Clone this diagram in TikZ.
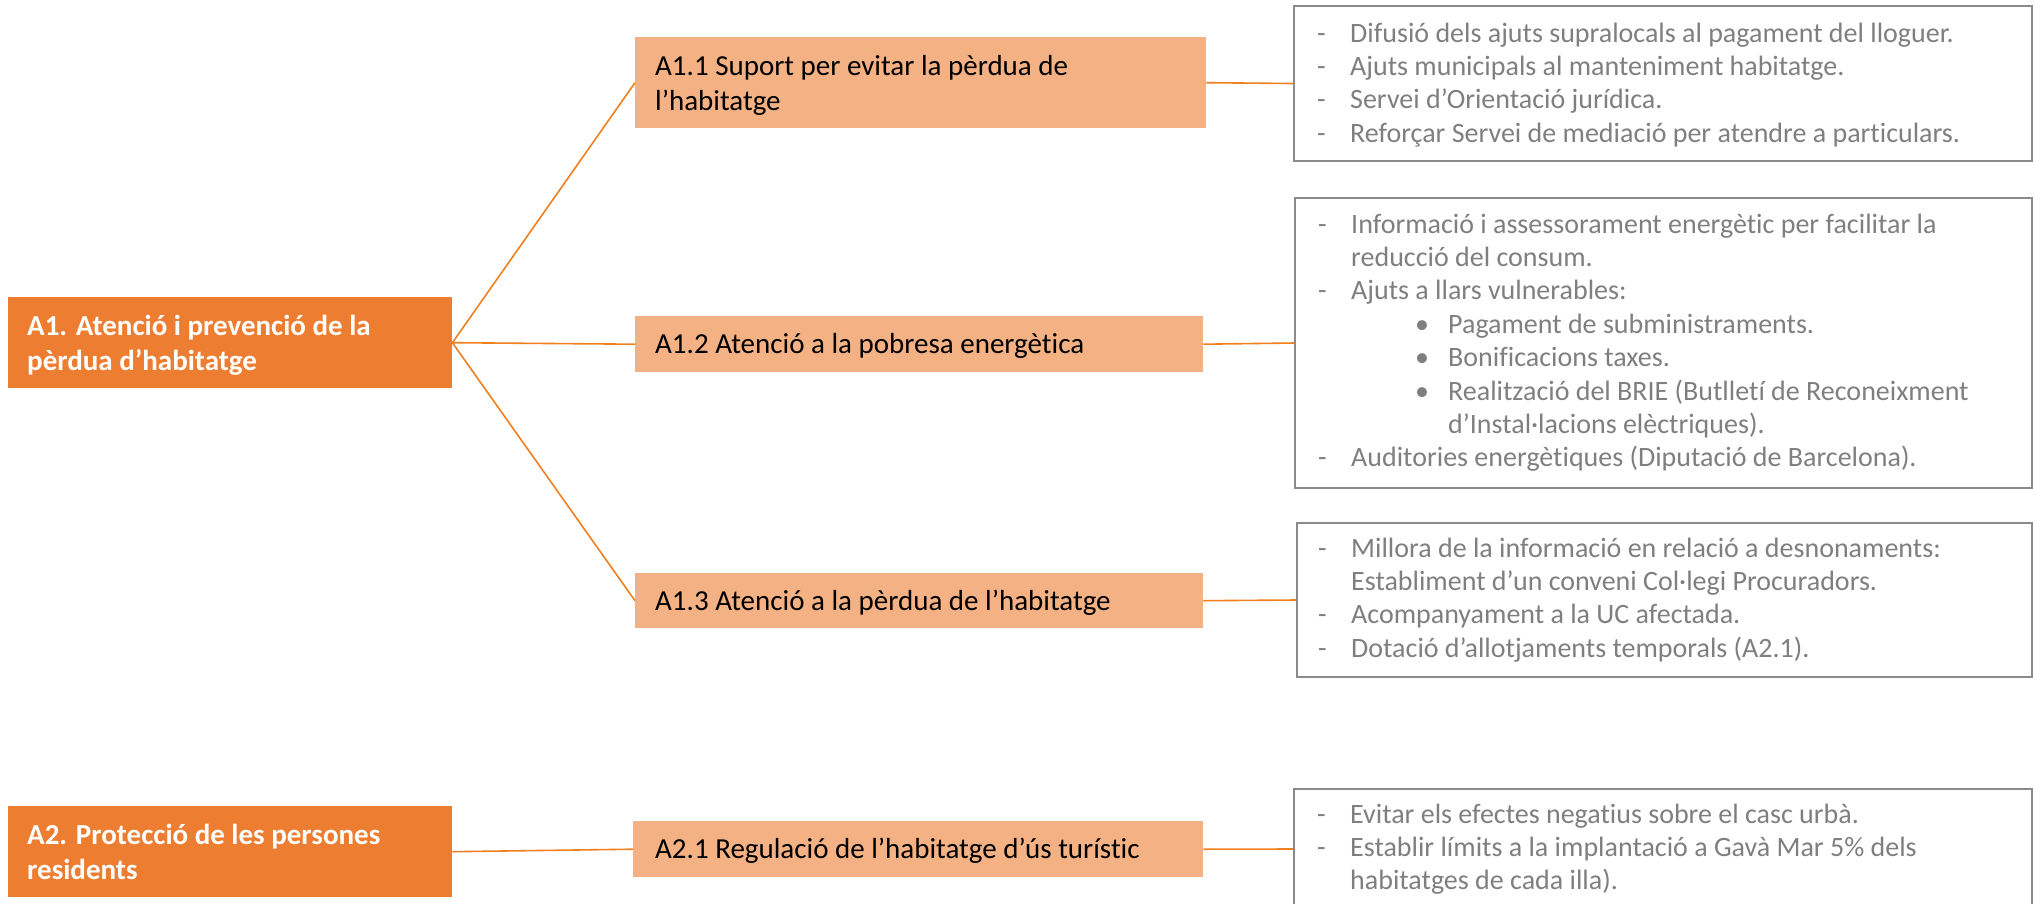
\documentclass[tikz,border=0pt]{standalone}
\usepackage{fontspec}
\setmainfont{Carlito}[Ligatures=NoCommon]
\definecolor{darkor}{HTML}{ED7D31}
\definecolor{lightor}{HTML}{F4B183}
\definecolor{conn}{RGB}{240,128,30}
\definecolor{greytxt}{HTML}{7F7F7F}
\definecolor{greyline}{HTML}{8A8A8A}
\newcommand\dashln[1]{\makebox[33pt][l]{-}#1}
\newcommand\contln[1]{\hspace*{33pt}#1}
\newcommand\bulln[1]{\hspace*{97pt}\makebox[33pt][l]{•}#1}
\newcommand\bullcont[1]{\hspace*{130pt}#1}
\tikzset{
  obox/.style={draw=none, fill=darkor, anchor=north west, inner sep=0pt},
  lbox/.style={draw=none, fill=lightor, anchor=north west, inner sep=0pt},
  gbox/.style={draw=greyline, line width=2pt, fill=white, anchor=north west, inner sep=0pt},
  otext/.style={anchor=base west, inner sep=0pt, text=white, font=\fontsize{29pt}{35pt}\selectfont\bfseries},
  ltext/.style={anchor=base west, inner sep=0pt, text=black, font=\fontsize{29pt}{35pt}\selectfont},
  gtext/.style={anchor=base west, inner sep=0pt, text=greytxt, font=\fontsize{28pt}{33.4pt}\selectfont},
  link/.style={draw=conn, line width=1.6pt}
}
\begin{document}
\begin{tikzpicture}[x=1pt, y=-1pt]
\useasboundingbox (0,0) rectangle (2035,903);
% left orange boxes
\node[obox, minimum width=444pt, minimum height=91pt] (A1) at (8,297) {};
\node[obox, minimum width=444pt, minimum height=91pt] (A2) at (8,806) {};
% middle light boxes
\node[lbox, minimum width=571pt, minimum height=91pt] (A11) at (635,37) {};
\node[lbox, minimum width=568pt, minimum height=56pt] (A12) at (635,316) {};
\node[lbox, minimum width=568pt, minimum height=55pt] (A13) at (635,573) {};
\node[lbox, minimum width=570pt, minimum height=56pt] (A21) at (633,821) {};
% right grey boxes
\node[gbox, minimum width=738pt, minimum height=155pt] (B1) at (1293,5) {};
\node[gbox, minimum width=737pt, minimum height=290pt] (B2) at (1294,197) {};
\node[gbox, minimum width=735pt, minimum height=154pt] (B3) at (1296,522) {};
\node[gbox, minimum width=738pt, minimum height=120pt] (B4) at (1293,788) {};
% connectors
\draw[link] (A1.east) -- (A11.west);
\draw[link] (A1.east) -- (A12.west);
\draw[link] (A1.east) -- (A13.west);
\draw[link] (A2.east) -- (A21.west);
\draw[link] (A11.east) -- (B1.west);
\draw[link] (A12.east) -- (B2.west);
\draw[link] (A13.east) -- (B3.west);
\draw[link] (A21.east) -- (B4.west);
% texts
\node[otext] (A1t) at ([shift={(19,38)}]A1.north west) {\parbox[t]{420pt}{A1. Atenció i prevenció de la\\pèrdua d’habitatge}};
\node[otext] (A2t) at ([shift={(19,38)}]A2.north west) {\parbox[t]{420pt}{A2. Protecció de les persones\\residents}};
\node[ltext] (A11t) at ([shift={(20,38)}]A11.north west) {\parbox[t]{540pt}{A1.1 Suport per evitar la pèrdua de\\l’habitatge}};
\node[ltext] (A12t) at ([shift={(20,37)}]A12.north west) {A1.2 Atenció a la pobresa energètica};
\node[ltext] (A13t) at ([shift={(20,37)}]A13.north west) {A1.3 Atenció a la pèrdua de l’habitatge};
\node[ltext] (A21t) at ([shift={(22,37)}]A21.north west) {A2.1 Regulació de l’habitatge d’ús turístic};
\node[gtext] (B1t) at ([shift={(24,37)}]B1.north west) {\parbox[t]{720pt}{\raggedright
\dashln{Difusió dels ajuts supralocals al pagament del lloguer.}\\
\dashln{Ajuts municipals al manteniment habitatge.}\\
\dashln{Servei d’Orientació jurídica.}\\
\dashln{Reforçar Servei de mediació per atendre a particulars.}}};
\node[gtext] (B2t) at ([shift={(24,36)}]B2.north west) {\parbox[t]{720pt}{\raggedright
\dashln{Informació i assessorament energètic per facilitar la}\\
\contln{reducció del consum.}\\
\dashln{Ajuts a llars vulnerables:}\\
\bulln{Pagament de subministraments.}\\
\bulln{Bonificacions taxes.}\\
\bulln{Realització del BRIE (Butlletí de Reconeixment}\\
\bullcont{d’Instal·lacions elèctriques).}\\
\dashln{Auditories energètiques (Diputació de Barcelona).}}};
\node[gtext] (B3t) at ([shift={(22,35)}]B3.north west) {\parbox[t]{720pt}{\raggedright
\dashln{Millora de la informació en relació a desnonaments:}\\
\contln{Establiment d’un conveni Col·legi Procuradors.}\\
\dashln{Acompanyament a la UC afectada.}\\
\dashln{Dotació d’allotjaments temporals (A2.1).}}};
\node[gtext] (B4t) at ([shift={(24,35)}]B4.north west) {\parbox[t]{720pt}{\raggedright
\dashln{Evitar els efectes negatius sobre el casc urbà.}\\
\dashln{Establir límits a la implantació a Gavà Mar 5\% dels}\\
\contln{habitatges de cada illa).}}};
\end{tikzpicture}
\end{document}
